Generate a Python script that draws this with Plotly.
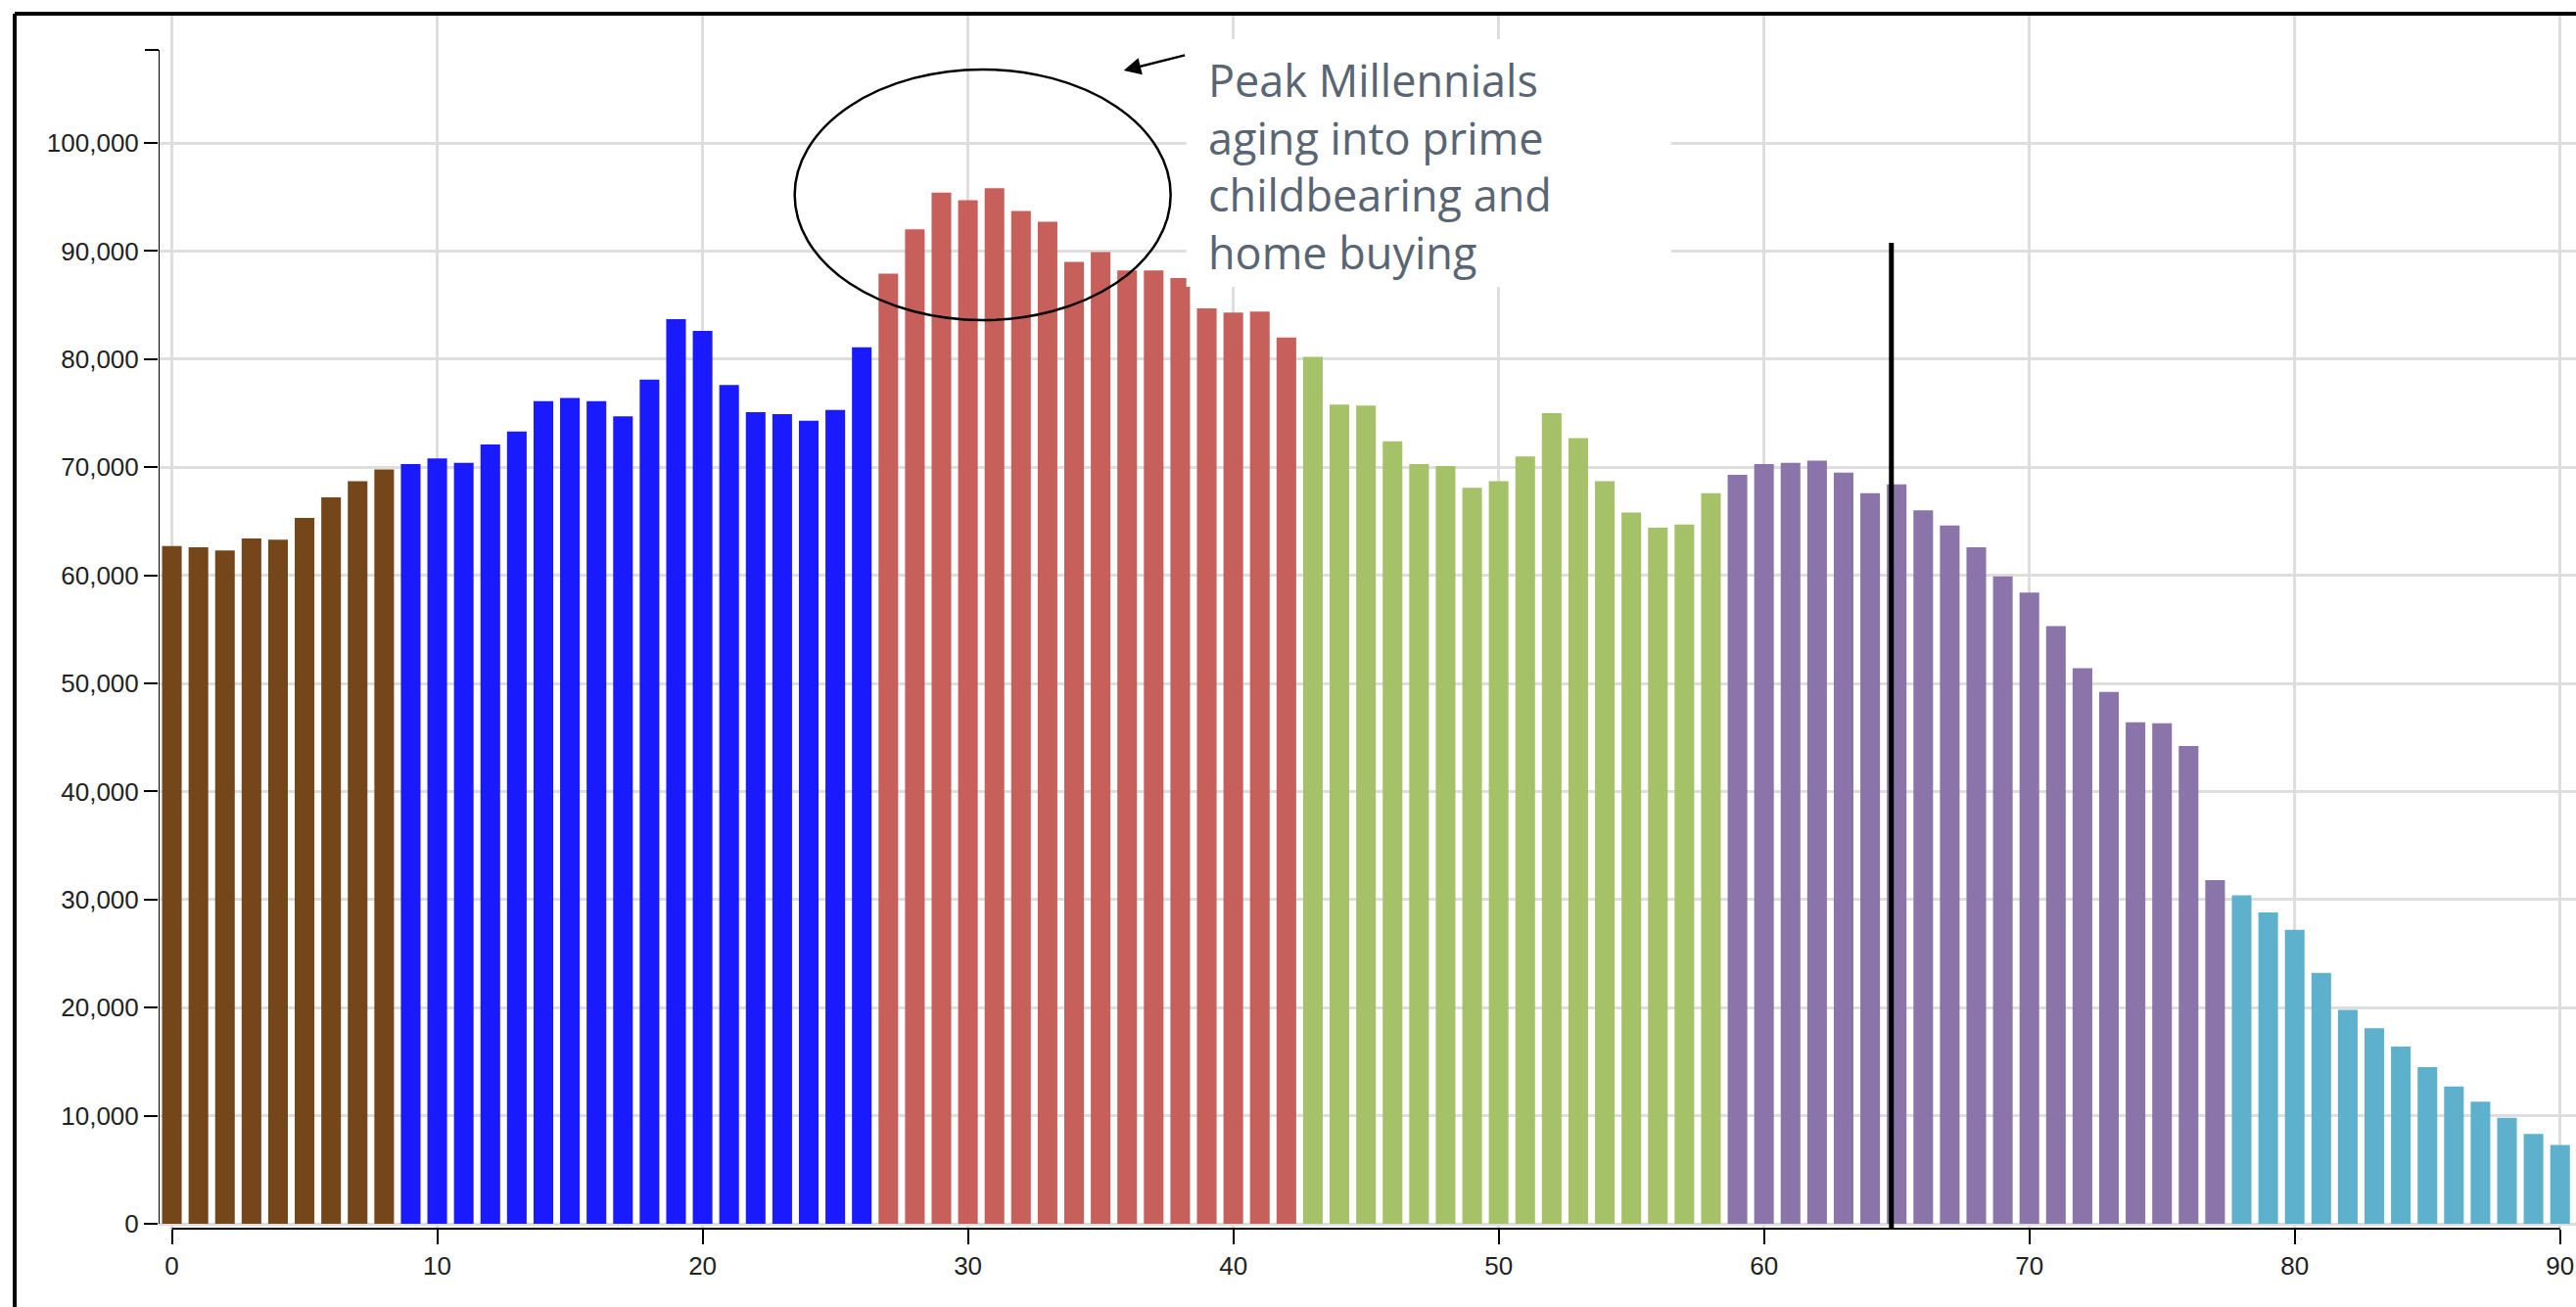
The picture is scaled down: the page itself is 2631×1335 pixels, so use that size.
import plotly.graph_objects as go

# Population by single year of age
ages = list(range(0, 92))
population = [
    62700, 62600, 62300, 63400, 63300, 65300, 67200, 68700, 69800, 70300,
    70800, 70400, 72100, 73300, 76100, 76400, 76100, 74700, 78100, 83700,
    82600, 77600, 75100, 74900, 74300, 75300, 81100, 87900, 92000, 95400,
    94700, 95800, 93700, 92700, 89000, 89900, 88200, 88200, 87500, 84700,
    84300, 84400, 82000, 80200, 75800, 75700, 72400, 70300, 70100, 68100,
    68700, 71000, 75000, 72700, 68700, 65800, 64400, 64700, 67600, 69300,
    70300, 70400, 70600, 69500, 67600, 68400, 66000, 64600, 62600, 59900,
    58400, 55300, 51400, 49200, 46400, 46300, 44200, 31800, 30400, 28800,
    27200, 23200, 19800, 18100, 16400, 14500, 12700, 11300, 9800, 8300,
    7300, 6300,
]

# Generations: first age of each group and its colour
generations = ["Gen Alpha", "Gen Z", "Millennials", "Gen X", "Boomers", "Silent"]
gen_first_age = [0, 9, 27, 43, 59, 78]
gen_colors = ["#74461a", "#1a1aff", "#c75f5b", "#a6c268", "#8b74aa", "#5eb1cc"]

bar_colors = []
for a in ages:
    idx = max(i for i, start in enumerate(gen_first_age) if a >= start)
    bar_colors.append(gen_colors[idx])

note_text = "Peak Millennials<br>aging into prime<br>childbearing and<br>home buying"

fig = go.Figure(
    go.Bar(
        x=ages,
        y=population,
        width=0.74,
        marker=dict(color=bar_colors, line_width=0),
        hovertemplate="Age %{x}: %{y:,}<extra></extra>",
    )
)

axis_font = dict(family="Liberation Sans, Arial, sans-serif", size=26, color="#222222")

fig.update_layout(
    width=2631,
    height=1335,
    margin=dict(l=162, r=0, t=16, b=80),
    plot_bgcolor="white",
    paper_bgcolor="white",
    showlegend=False,
    xaxis=dict(
        range=[-0.5, 90.6],
        tickvals=list(range(0, 100, 10)),
        ticks="outside",
        ticklen=15,
        tickwidth=2,
        tickcolor="black",
        showline=False,
        zeroline=False,
        showgrid=True,
        gridcolor="#dedede",
        gridwidth=2.5,
        tickfont=axis_font,
    ),
    yaxis=dict(
        range=[-453, 111775],
        tickvals=list(range(0, 110000, 10000)),
        tickformat=",",
        ticks="outside",
        ticklen=14,
        tickwidth=2,
        tickcolor="black",
        showline=False,
        zeroline=False,
        showgrid=True,
        gridcolor="#dedede",
        gridwidth=2.5,
        tickfont=axis_font,
    ),
    shapes=[
        # y axis domain line with its top outer tick
        dict(type="line", xref="x", yref="y", x0=-0.5, x1=-0.5, y0=0, y1=108600,
             line=dict(color="black", width=2)),
        dict(type="line", xref="paper", yref="y", x0=-14 / 2469, x1=0, y0=108600, y1=108600,
             line=dict(color="black", width=2)),
        # x axis domain line
        dict(type="line", xref="x", yref="paper", x0=0, x1=90, y0=0, y1=0,
             line=dict(color="black", width=2)),
        # white box behind the note
        dict(type="rect", xref="x", yref="y", x0=38.23, x1=56.5, y0=86680, y1=109600,
             fillcolor="white", line_width=0, layer="above"),
        # circle around the peak
        dict(type="circle", xref="x", yref="y", x0=23.47, x1=37.64, y0=83600, y1=106800,
             line=dict(color="black", width=2.5)),
        # vertical marker line
        dict(type="line", xref="x", yref="y", x0=64.8, x1=64.8, y0=-450, y1=90760,
             line=dict(color="black", width=5)),
        # outer frame (left and top edges)
        dict(type="line", xref="paper", yref="paper", x0=-147 / 2469, x1=-147 / 2469, y0=-0.1, y1=1.0016,
             line=dict(color="black", width=4)),
        dict(type="line", xref="paper", yref="paper", x0=-147 / 2469, x1=1.01, y0=1.0016, y1=1.0016,
             line=dict(color="black", width=4)),
    ],
    annotations=[
        dict(
            x=38.97, y=97900, xref="x", yref="y",
            text=note_text, showarrow=False,
            xanchor="left", yanchor="middle", align="left",
            font=dict(family="Open Sans, sans-serif", size=45, color="#596573"),
        ),
        dict(
            x=35.87, y=106700, xref="x", yref="y",
            ax=38.23, ay=108150, axref="x", ayref="y",
            text="", showarrow=True,
            arrowhead=2, arrowsize=1.4, arrowwidth=2.5, arrowcolor="black",
        ),
    ],
)

# drop the browser's default page margin so the figure sits flush at the top-left
fig.write_html(
    "out.html",
    config={"displayModeBar": False},
    post_script="document.body.style.margin = '0';",
)
